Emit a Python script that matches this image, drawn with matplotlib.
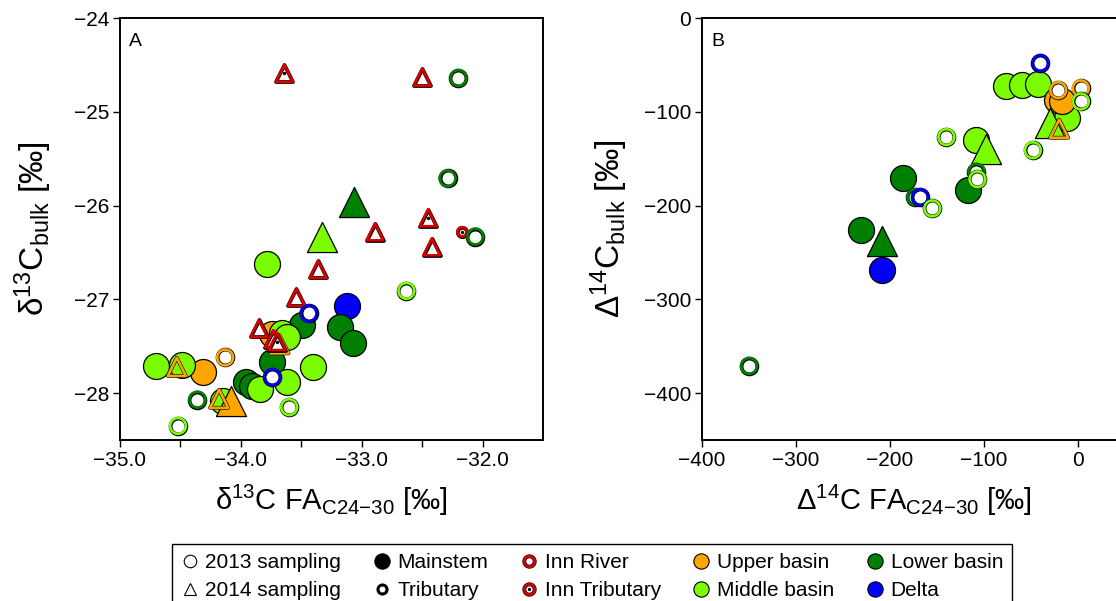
import matplotlib
matplotlib.use("Agg")
import matplotlib.pyplot as plt
from matplotlib.lines import Line2D
from matplotlib.ticker import FixedLocator, FuncFormatter

plt.rcParams['font.family'] = ['Liberation Sans', 'DejaVu Sans']
plt.rcParams['mathtext.fontset'] = 'custom'
plt.rcParams['mathtext.rm'] = 'Liberation Sans'
plt.rcParams['mathtext.default'] = 'regular'

# region colours
colors = {'upper': '#FFA500', 'middle': '#7CFC00', 'lower': '#008000',
          'delta': '#0000FF', 'inn': '#D80000'}

# kinds: M = mainstem, T = tributary, I = Inn River, IT = Inn tributary
# ---- panel A: d13C FA (x) vs d13C bulk (y)
a_x = [-33.78, -33.12, -33.18, -33.07, -33.49, -33.74, -33.66, -33.62, -33.74, -33.62,
       -33.40, -33.96, -33.91, -33.84, -34.15, -34.31, -34.70, -34.49,
       -33.06, -33.33, -34.08,
       -34.53, -34.18, -33.68,
       -32.50, -32.89, -32.42, -33.36, -33.54, -33.85, -33.73,
       -33.64, -32.45, -33.70, -32.17,
       -32.20, -32.29, -32.06, -32.63, -33.44, -33.74, -33.60, -34.36, -34.52, -34.13]
a_y = [-26.62, -27.07, -27.30, -27.47, -27.27, -27.37, -27.36, -27.40, -27.67, -27.88,
       -27.72, -27.88, -27.92, -27.96, -28.08, -27.78, -27.71, -27.70,
       -25.96, -26.33, -28.08,
       -27.72, -28.06, -27.48,
       -24.63, -26.28, -26.44, -26.68, -26.98, -27.31, -27.42,
       -24.59, -26.13, -27.45, -26.28,
       -24.64, -25.71, -26.33, -26.91, -27.15, -27.83, -28.15, -28.07, -28.35, -27.62]
a_kind = ['M'] * 21 + ['T'] * 3 + ['I'] * 7 + ['IT'] * 4 + ['T'] * 10
a_year = [2013] * 18 + [2014] * 3 + [2014] * 3 + [2014] * 7 + [2014] * 3 + [2013] + [2013] * 10
a_region = ['middle', 'delta', 'lower', 'lower', 'lower', 'upper', 'middle', 'middle', 'lower', 'middle',
            'middle', 'lower', 'lower', 'middle', 'middle', 'upper', 'middle', 'middle',
            'lower', 'middle', 'upper',
            'upper', 'upper', 'upper',
            'inn', 'inn', 'inn', 'inn', 'inn', 'inn', 'inn',
            'inn', 'inn', 'inn', 'inn',
            'lower', 'lower', 'lower', 'middle', 'delta', 'delta', 'middle', 'lower', 'middle', 'upper']

# ---- panel B: D14C FA (x) vs D14C bulk (y)
b_x = [-186, -231, -209, -117, -109, -77, -60, -43, -12, -22, -17,
       -209, -98, -30,
       -20,
       -350, -173, -168, -155, -140, -108, -107, -48, -40, -21, 3, 3]
b_y = [-171, -226, -269, -183, -130, -73, -71, -70, -107, -87, -89,
       -238, -140, -112,
       -118,
       -371, -191, -191, -203, -127, -164, -172, -141, -48, -77, -75, -89]
b_kind = ['M'] * 14 + ['T'] * 13
b_year = [2013] * 11 + [2014] * 3 + [2014] + [2013] * 12
b_region = ['lower', 'lower', 'delta', 'lower', 'middle', 'middle', 'middle', 'middle', 'middle', 'upper', 'upper',
            'lower', 'middle', 'middle',
            'upper',
            'lower', 'lower', 'delta', 'middle', 'middle', 'lower', 'middle', 'middle', 'delta', 'upper', 'upper', 'middle']


def draw_points(ax, xs, ys, kinds, years, regions):
    z = 3
    for x, y, k, yr, rg in zip(xs, ys, kinds, years, regions):
        mk = 'o' if yr == 2013 else '^'
        col = colors[rg]
        if k == 'M':
            s = 350 if mk == 'o' else 470
            ax.scatter(x, y, s=s, marker=mk, facecolor=col, edgecolor='black', linewidths=0.9, zorder=z)
        else:
            if k == 'T':
                s = 130 if mk == 'o' else 170
                fill = 'white' if mk == 'o' else 'none'
            elif k == 'I':
                s = 130 if mk == 'o' else 150
                fill = 'white'
            else:
                s = 45 if mk == 'o' else 150
                fill = 'white'
            ax.scatter(x, y, s=s, marker=mk, facecolor=fill, edgecolor='black', linewidths=2.7, zorder=z)
            ax.scatter(x, y, s=s, marker=mk, facecolor='none', edgecolor=col, linewidths=1.9, zorder=z + 0.1)
            if k == 'IT':
                ax.scatter(x, y, s=6, marker='o', color='black', linewidths=0, zorder=z + 0.2)
        z += 0.3


def minus(v, fmt):
    return (fmt % v).replace('-', '\u2212')


fig = plt.figure(figsize=(11.16, 6.01), dpi=100)
axA = fig.add_axes([120 / 1116, 1 - 440 / 601, 423 / 1116, 422 / 601])
axB = fig.add_axes([702 / 1116, 1 - 440 / 601, 423 / 1116, 422 / 601])

draw_points(axA, a_x, a_y, a_kind, a_year, a_region)
draw_points(axB, b_x, b_y, b_kind, b_year, b_region)

axA.set_xlim(-35, -31.5)
axA.set_ylim(-28.5, -24)
axA.xaxis.set_major_locator(FixedLocator([-35, -34, -33, -32]))
axA.xaxis.set_minor_locator(FixedLocator([-34.5, -33.5, -32.5]))
axA.xaxis.set_major_formatter(FuncFormatter(lambda v, p: minus(v, '%.1f')))
axA.yaxis.set_major_locator(FixedLocator([-24, -25, -26, -27, -28]))
axA.yaxis.set_major_formatter(FuncFormatter(lambda v, p: minus(v, '%d')))

axB.set_xlim(-400, 50)
axB.set_ylim(-450, 0)
axB.xaxis.set_major_locator(FixedLocator([-400, -300, -200, -100, 0]))
axB.yaxis.set_major_locator(FixedLocator([0, -100, -200, -300, -400]))
for a in (axB.xaxis, axB.yaxis):
    a.set_major_formatter(FuncFormatter(lambda v, p: minus(v, '%d')))

for ax, lab in ((axA, 'A'), (axB, 'B')):
    for sp in ax.spines.values():
        sp.set_linewidth(1.4)
    ax.tick_params(which='both', direction='out', length=5, width=1.0, labelsize=15, pad=3)
    ax.text(0.022, 0.965, lab, transform=ax.transAxes, ha='left', va='top', fontsize=14)

axA.set_xlabel('δ$^{13}$C FA$_{C24{\u2212}30}$ [‰]', fontsize=21, labelpad=9)
axA.set_ylabel('δ$^{13}$C$_{bulk}$ [‰]', fontsize=24, labelpad=14)
axB.set_xlabel('Δ$^{14}$C FA$_{C24{\u2212}30}$ [‰]', fontsize=21, labelpad=9)
axB.set_ylabel('Δ$^{14}$C$_{bulk}$ [‰]', fontsize=24, labelpad=10)

# legend
def ring(col, ms):
    return (Line2D([], [], ls='none', marker='o', ms=ms, mfc='white', mec='black', mew=2.8),
            Line2D([], [], ls='none', marker='o', ms=ms, mfc='none', mec=col, mew=1.9))

handles = [
    Line2D([], [], ls='none', marker='o', ms=9, mfc='white', mec='black', mew=0.8),
    Line2D([], [], ls='none', marker='^', ms=9, mfc='white', mec='black', mew=0.8),
    Line2D([], [], ls='none', marker='o', ms=11, mfc='black', mec='black', mew=0.8),
    Line2D([], [], ls='none', marker='o', ms=6.5, mfc='white', mec='black', mew=2.2),
    ring(colors['inn'], 7.5),
    ring(colors['inn'], 7.5) + (Line2D([], [], ls='none', marker='o', ms=2.4, mfc='black', mec='black', mew=0),),
    Line2D([], [], ls='none', marker='o', ms=11, mfc=colors['upper'], mec='black', mew=0.8),
    Line2D([], [], ls='none', marker='o', ms=11, mfc=colors['middle'], mec='black', mew=0.8),
    Line2D([], [], ls='none', marker='o', ms=11, mfc=colors['lower'], mec='black', mew=0.8),
    Line2D([], [], ls='none', marker='o', ms=11, mfc=colors['delta'], mec='black', mew=0.8),
]
labels = ['2013 sampling', '2014 sampling', 'Mainstem', 'Tributary', 'Inn River', 'Inn Tributary',
          'Upper basin', 'Middle basin', 'Lower basin', 'Delta']
leg = fig.legend(handles, labels, ncol=5, loc='upper left', bbox_to_anchor=(172 / 1116, 1 - 544 / 601),
                 fontsize=15, frameon=True, fancybox=False, edgecolor='black', framealpha=1,
                 handlelength=0.8, handletextpad=0.35, columnspacing=1.55, labelspacing=0.42,
                 borderpad=0.45, borderaxespad=0)
leg.get_frame().set_linewidth(1.0)

fig.savefig('out.png', dpi=100)
